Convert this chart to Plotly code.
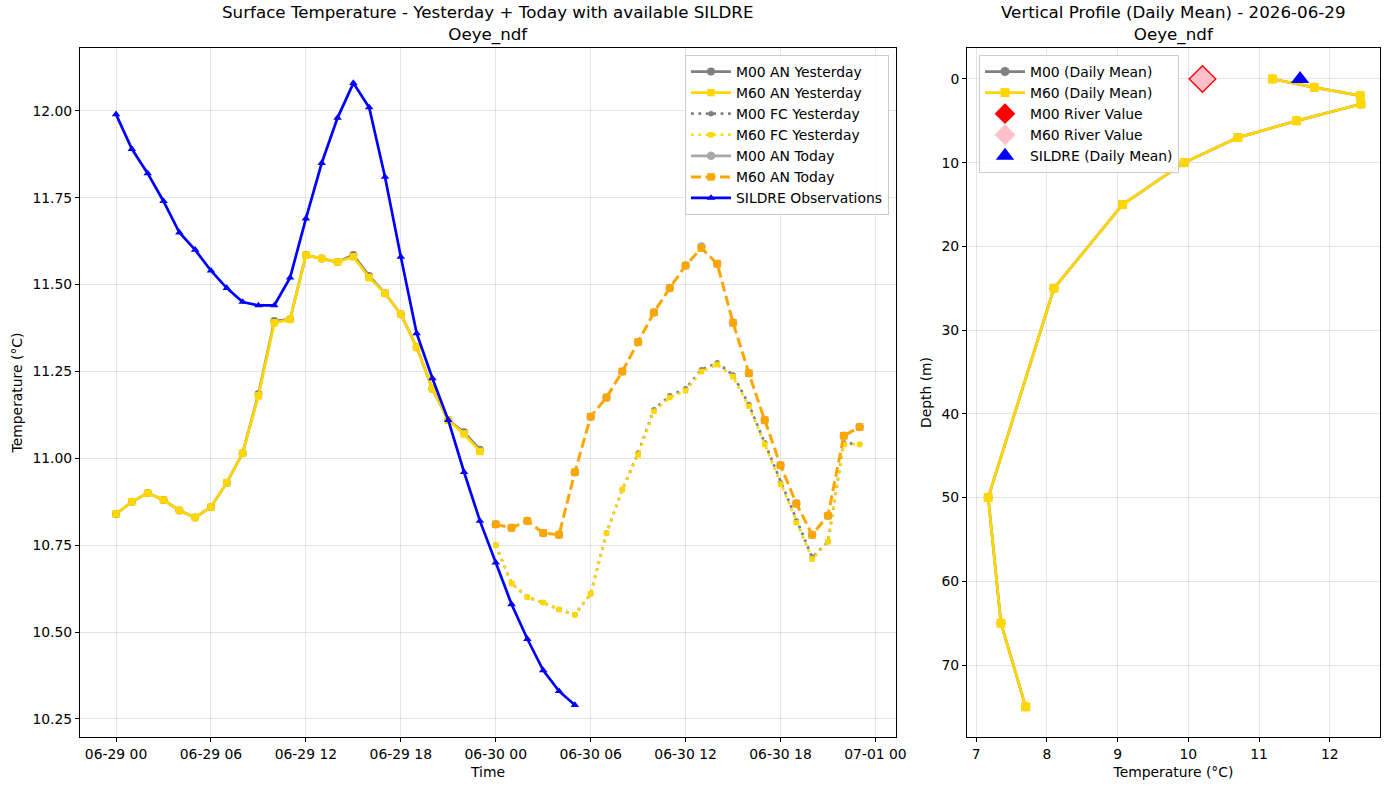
import plotly.graph_objects as go
import pandas as pd

# ---------------- Data ----------------
t0 = pd.Timestamp("2026-06-29 00:00")
hours_y = list(range(0, 24))          # yesterday analysis hours
hours_fc = list(range(24, 48))        # forecast / today hours
hours_obs = list(range(0, 30))        # SILDRE observations

m00_an_yesterday = [10.84, 10.875, 10.90, 10.88, 10.85, 10.83, 10.86, 10.93, 11.015, 11.185,
                    11.395, 11.40, 11.585, 11.575, 11.565, 11.585, 11.525, 11.475, 11.415, 11.32,
                    11.20, 11.11, 11.075, 11.025]
m60_an_yesterday = [10.84, 10.875, 10.90, 10.88, 10.85, 10.83, 10.86, 10.93, 11.015, 11.18,
                    11.39, 11.40, 11.585, 11.575, 11.565, 11.58, 11.52, 11.475, 11.415, 11.32,
                    11.20, 11.11, 11.07, 11.02]
m00_fc_yesterday = [10.75, 10.64, 10.60, 10.585, 10.565, 10.55, 10.61, 10.785, 10.91, 11.015,
                    11.14, 11.18, 11.20, 11.255, 11.275, 11.24, 11.155, 11.045, 10.93, 10.82,
                    10.715, 10.76, 11.045, 11.04]
m60_fc_yesterday = [10.75, 10.64, 10.60, 10.585, 10.565, 10.55, 10.61, 10.785, 10.91, 11.01,
                    11.135, 11.175, 11.195, 11.25, 11.27, 11.235, 11.15, 11.04, 10.925, 10.815,
                    10.71, 10.76, 11.04, 11.04]
m00_an_today = [10.81, 10.80, 10.82, 10.785, 10.78, 10.96, 11.12, 11.175, 11.25, 11.335,
                11.42, 11.49, 11.555, 11.61, 11.56, 11.39, 11.245, 11.11, 10.98, 10.87,
                10.78, 10.835, 11.065, 11.09]
m60_an_today = [10.81, 10.80, 10.82, 10.785, 10.78, 10.96, 11.12, 11.175, 11.25, 11.335,
                11.42, 11.49, 11.555, 11.605, 11.56, 11.39, 11.245, 11.11, 10.98, 10.87,
                10.78, 10.835, 11.065, 11.09]
sildre_obs = [11.99, 11.89, 11.82, 11.74, 11.65, 11.60, 11.54, 11.49, 11.45, 11.44,
              11.44, 11.52, 11.69, 11.85, 11.98, 12.08, 12.01, 11.81, 11.58, 11.36,
              11.23, 11.11, 10.96, 10.82, 10.70, 10.58, 10.48, 10.39, 10.33, 10.29]

depths = [0, 1, 2, 3, 5, 7, 10, 15, 25, 50, 65, 75]
m00_profile = [11.19, 11.78, 12.43, 12.44, 11.53, 10.70, 9.94, 9.07, 8.10, 7.17, 7.35, 7.70]
m60_profile = [11.19, 11.78, 12.43, 12.44, 11.53, 10.70, 9.94, 9.07, 8.10, 7.17, 7.35, 7.70]
river_depth = [0]
m00_river = [10.20]
m60_river = [10.20]
sildre_mean_depth = [0]
sildre_mean = [11.58]

def times(hrs):
    return [t0 + pd.Timedelta(hours=h) for h in hrs]

FONT = "DejaVu Sans"
FS = 13.9
LW = 2.7
DOT = "2.8px,4.6px"
DASH = "10px,4.5px"
fig = go.Figure()

# ---------------- Left panel ----------------
fig.add_trace(go.Scatter(x=times(hours_y), y=m00_an_yesterday, name="M00 AN Yesterday",
                         mode="lines+markers", line=dict(color="gray", width=LW),
                         marker=dict(symbol="circle", size=8, color="gray"),
                         xaxis="x", yaxis="y", legend="legend"))
fig.add_trace(go.Scatter(x=times(hours_y), y=m60_an_yesterday, name="M60 AN Yesterday",
                         mode="lines+markers", line=dict(color="gold", width=LW),
                         marker=dict(symbol="square", size=7.5, color="gold"),
                         xaxis="x", yaxis="y", legend="legend"))
fig.add_trace(go.Scatter(x=times(hours_fc), y=m00_fc_yesterday, name="M00 FC Yesterday",
                         mode="lines+markers", line=dict(color="gray", width=LW, dash=DOT),
                         marker=dict(symbol="circle", size=5.5, color="gray"),
                         xaxis="x", yaxis="y", legend="legend"))
fig.add_trace(go.Scatter(x=times(hours_fc), y=m60_fc_yesterday, name="M60 FC Yesterday",
                         mode="lines+markers", line=dict(color="gold", width=LW, dash=DOT),
                         marker=dict(symbol="square", size=5.5, color="gold"),
                         xaxis="x", yaxis="y", legend="legend"))
# M00 AN Today: markers drawn (its line is hidden beneath the orange series in the reference)
fig.add_trace(go.Scatter(x=times(hours_fc), y=m00_an_today, name="M00 AN Today",
                         mode="markers", showlegend=False,
                         marker=dict(symbol="circle", size=8.5, color="darkgray"),
                         xaxis="x", yaxis="y", legend="legend"))
# legend key for M00 AN Today (no drawn point)
fig.add_trace(go.Scatter(x=[None], y=[None], name="M00 AN Today",
                         mode="lines+markers", line=dict(color="darkgray", width=LW),
                         marker=dict(symbol="circle", size=8.5, color="darkgray"),
                         xaxis="x", yaxis="y", legend="legend", hoverinfo="skip"))
fig.add_trace(go.Scatter(x=times(hours_fc), y=m60_an_today, name="M60 AN Today",
                         mode="lines+markers", line=dict(color="orange", width=LW + 0.3, dash=DASH),
                         marker=dict(symbol="square", size=7.5, color="orange"),
                         xaxis="x", yaxis="y", legend="legend"))
fig.add_trace(go.Scatter(x=times(hours_obs), y=sildre_obs, name="SILDRE Observations",
                         mode="lines+markers", line=dict(color="blue", width=LW),
                         marker=dict(symbol="triangle-up", size=7.5, color="blue"),
                         xaxis="x", yaxis="y", legend="legend"))

# ---------------- Right panel ----------------
fig.add_trace(go.Scatter(x=m00_profile, y=depths, name="M00 (Daily Mean)",
                         mode="lines+markers", line=dict(color="gray", width=LW),
                         marker=dict(symbol="circle", size=9, color="gray"),
                         xaxis="x2", yaxis="y2", legend="legend2"))
fig.add_trace(go.Scatter(x=m60_profile, y=depths, name="M60 (Daily Mean)",
                         mode="lines+markers", line=dict(color="gold", width=LW),
                         marker=dict(symbol="square", size=9, color="gold"),
                         xaxis="x2", yaxis="y2", legend="legend2"))
fig.add_trace(go.Scatter(x=m00_river, y=river_depth, name="M00 River Value",
                         mode="markers",
                         marker=dict(symbol="diamond", size=22, color="red"),
                         xaxis="x2", yaxis="y2", legend="legend2"))
fig.add_trace(go.Scatter(x=m60_river, y=river_depth, name="M60 River Value",
                         mode="markers",
                         marker=dict(symbol="diamond", size=19, color="pink"),
                         xaxis="x2", yaxis="y2", legend="legend2"))
fig.add_trace(go.Scatter(x=sildre_mean, y=sildre_mean_depth, name="SILDRE (Daily Mean)",
                         mode="markers",
                         marker=dict(symbol="triangle-up", size=16, color="blue"),
                         xaxis="x2", yaxis="y2", legend="legend2"))

W, H = 1389, 790
def px_x(p): return p / W
def px_y(p): return 1 - p / H

axis_common = dict(showline=True, linecolor="black", linewidth=1, mirror=True,
                   ticks="outside", ticklen=4, tickcolor="black", automargin=False,
                   showgrid=True, gridcolor="rgba(0,0,0,0.1)", gridwidth=1,
                   zeroline=False, tickfont=dict(family=FONT, size=FS, color="black"))

x_start = t0 + pd.Timedelta(hours=-2.28)
x_end = t0 + pd.Timedelta(hours=49.3)

fig.update_layout(
    width=W, height=H, autosize=False,
    margin=dict(l=0, r=0, t=0, b=0, pad=0, autoexpand=False),
    paper_bgcolor="white", plot_bgcolor="white",
    font=dict(family=FONT, size=FS, color="black"),
    xaxis=dict(domain=[px_x(80), px_x(896)], anchor="y",
               range=[x_start, x_end], type="date",
               tickformat="%m-%d %H", dtick=6 * 3600 * 1000,
               tick0=t0,
               title=dict(text="Time", font=dict(family=FONT, size=FS), standoff=6),
               **axis_common),
    yaxis=dict(domain=[px_y(737), px_y(48)], anchor="x",
               range=[10.198, 12.181], dtick=0.25, tickformat=".2f",
               title=dict(text="Temperature (°C)", font=dict(family=FONT, size=FS), standoff=6),
               **axis_common),
    xaxis2=dict(domain=[px_x(967), px_x(1380)], anchor="y2",
                range=[6.87, 12.71], dtick=1,
                title=dict(text="Temperature (°C)", font=dict(family=FONT, size=FS), standoff=6),
                **axis_common),
    yaxis2=dict(domain=[px_y(737), px_y(48)], anchor="x2",
                range=[78.6, -3.7], dtick=10,
                title=dict(text="Depth (m)", font=dict(family=FONT, size=FS), standoff=6),
                **axis_common),
    legend=dict(x=px_x(889), xanchor="right", y=px_y(55), yanchor="top",
                bgcolor="rgba(255,255,255,0.85)", bordercolor="#cccccc", borderwidth=1,
                font=dict(family=FONT, size=FS), tracegroupgap=0, itemwidth=40),
    legend2=dict(x=px_x(979), xanchor="left", y=px_y(55), yanchor="top",
                 bgcolor="rgba(255,255,255,0.85)", bordercolor="#cccccc", borderwidth=1,
                 font=dict(family=FONT, size=FS), tracegroupgap=0, itemwidth=40),
    annotations=[
        dict(text="Surface Temperature - Yesterday + Today with available SILDRE<br>Oeye_ndf",
             x=(px_x(80) + px_x(896)) / 2, y=px_y(47), xref="paper", yref="paper",
             xanchor="center", yanchor="bottom", showarrow=False,
             font=dict(family=FONT, size=16.7, color="black")),
        dict(text="Vertical Profile (Daily Mean) - 2026-06-29<br>Oeye_ndf",
             x=(px_x(967) + px_x(1380)) / 2, y=px_y(47), xref="paper", yref="paper",
             xanchor="center", yanchor="bottom", showarrow=False,
             font=dict(family=FONT, size=16.7, color="black")),
    ],
)

fig.write_html("out.html")
